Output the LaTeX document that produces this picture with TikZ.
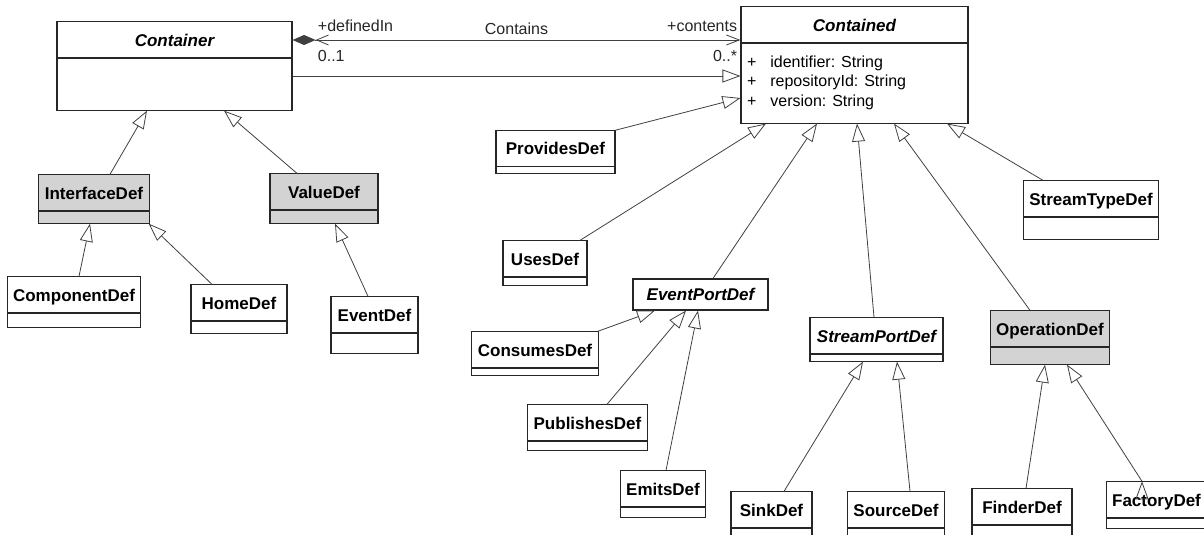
\documentclass[tikz,border=0pt]{standalone}
\usepackage{fontspec}
\setmainfont{Liberation Sans}
\usetikzlibrary{arrows.meta,shapes.multipart}
\definecolor{rosegray}{RGB}{211,211,211}

\begin{document}
\begin{tikzpicture}[x=1pt,y=-1pt,node distance=100pt,
    cls/.style={rectangle split, rectangle split parts=2, draw=black!85, line width=1.1pt, fill=white,
        inner xsep=6pt, inner ysep=0pt, rectangle split empty part depth=0pt,
        font=\fontsize{17}{20}\selectfont\bfseries, execute at begin node={\rule[-11.4pt]{0pt}{35pt}}},
    low/.style={rectangle split empty part height=#1},
    lbl/.style={font=\fontsize{16}{19}\selectfont, inner sep=0pt, text=black!85},
    gen/.style={draw=black!75, line width=0.8pt, -{Triangle[open,length=18pt,width=13pt]}},
    assoc/.style={draw=black!75, line width=0.8pt,
        {Diamond[length=23pt,width=10pt]Straight Barb[length=12pt,width=10pt]}-{Straight Barb[length=13pt,width=10pt]}}]
    \useasboundingbox (0,0) rectangle (1204,535);

    \node [cls, minimum width=235, low=51] (1) at (174.5,66) {\itshape Container};
    \node [cls, minimum width=227, rectangle split part align={center,left}] (2) [right of=1, xshift=580, yshift=1]
        {\itshape Contained\nodepart{two}\normalfont\fontsize{16}{19.5}\selectfont\rule[-55.3pt]{0pt}{76pt}%
        \begin{tabular}[t]{@{}l@{\hspace{14pt}}l@{}}
            + & identifier: String\\
            + & repositoryId: String\\
            + & version: String
        \end{tabular}};

    \node [cls, fill=rosegray, minimum width=110, low=11] (3) [below of=1, xshift=-80.5, yshift=-33] {InterfaceDef};
    \node [cls, fill=rosegray, minimum width=108, low=12] (4) [right of=3, xshift=130, yshift=0.5] {ValueDef};
    \node [cls, minimum width=132, low=13] (5) [below of=3, xshift=-20, yshift=-3] {ComponentDef};
    \node [cls, minimum width=96, low=11] (6) [below of=3, xshift=145, yshift=-10] {HomeDef};
    \node [cls, minimum width=87, low=19] (7) [below of=4, xshift=50.5, yshift=-26.5] {EventDef};

    \node [cls, minimum width=119, low=5] (8) [below of=2, xshift=-299, yshift=13] {ProvidesDef};
    \node [cls, minimum width=84, low=7] (9) [below of=8, xshift=-10.5, yshift=-11] {UsesDef};
    \node [rectangle, draw=black!85, line width=1.1pt, fill=white, inner sep=0pt, minimum width=135, minimum height=31,
        font=\fontsize{17}{20}\selectfont\bfseries\itshape] (10) [right of=9, xshift=55.5, yshift=-31.5] {EventPortDef};
    \node [cls, minimum width=122, low=6] (11) [below of=10, xshift=-165.5, yshift=41] {ConsumesDef};
    \node [cls, minimum width=109, low=8] (12) [below of=11, xshift=52.5, yshift=26] {PublishesDef};
    \node [cls, minimum width=84, low=9] (13) [below of=12, xshift=75.5, yshift=33.5] {EmitsDef};

    \node [cls, minimum width=133, low=6] (14) [right of=10, xshift=76, yshift=-45] {\itshape StreamPortDef};
    \node [cls, minimum width=81, low=12] (15) [below of=14, xshift=-105, yshift=-77] {SinkDef};
    \node [cls, minimum width=96, low=12] (16) [right of=15, xshift=24.5] {SourceDef};

    \node [cls, fill=rosegray, minimum width=114, low=16] (17) [right of=14, xshift=73.5, yshift=2] {OperationDef};
    \node [cls, minimum width=100, low=12] (18) [below of=17, xshift=-28, yshift=-76] {FinderDef};
    \node [cls, minimum width=91, low=9] (19) [right of=18, xshift=34.5, yshift=8.5] {FactoryDef};

    \node [cls, minimum width=126, low=21] (20) [below of=2, xshift=236.5, yshift=-45] {StreamTypeDef};

    % containment
    \draw [assoc] ([yshift=26]1.east) --
        node [lbl, pos=0, anchor=base west, xshift=25, yshift=8] {+definedIn}
        node [lbl, pos=0, anchor=base west, xshift=25, yshift=-22] {0..1}
        node [lbl, midway, anchor=base, yshift=5] {Contains}
        node [lbl, pos=1, anchor=base east, xshift=-3, yshift=8] {+contents}
        node [lbl, pos=1, anchor=base east, xshift=-3, yshift=-22] {0..*}
        ([yshift=25]2.west);

    \path [gen]
        ([yshift=-10]1.east) edge ([yshift=-11]2.west)
        ([xshift=16]3.north) edge ([xshift=-27.5]1.south)
        ([xshift=-27]4.north) edge ([xshift=49.5]1.south)
        ([xshift=5]5.north) edge ([xshift=-4]3.south)
        ([xshift=-27]6.north) edge ([xshift=-1]3.south east)
        ([xshift=-6.5]7.north) edge ([xshift=11]4.south)
        (8.north east) edge ([yshift=-33]2.west)
        ([xshift=35]9.north) edge ([xshift=-88.5]2.south)
        ([xshift=12.5]10.north) edge ([xshift=-37.5]2.south)
        ([xshift=-2.5]14.north) edge ([xshift=2.5]2.south)
        ([xshift=-20]17.north) edge ([xshift=39.5]2.south)
        ([xshift=-48]20.north) edge ([xshift=92.5]2.south)
        ([xshift=-1]11.north east) edge ([xshift=-45.5]10.south)
        ([xshift=19.5]12.north) edge ([xshift=-14.5]10.south)
        ([xshift=3]13.north) edge ([xshift=-2.5]10.south)
        ([xshift=12.5]15.north) edge ([xshift=-13.5]14.south)
        ([xshift=14]16.north) edge ([xshift=20.5]14.south)
        ([xshift=4]18.north) edge ([xshift=-5]17.south)
        ([xshift=-14.5]19.north) edge ([xshift=17]17.south)
        ;
\end{tikzpicture}
\end{document}
